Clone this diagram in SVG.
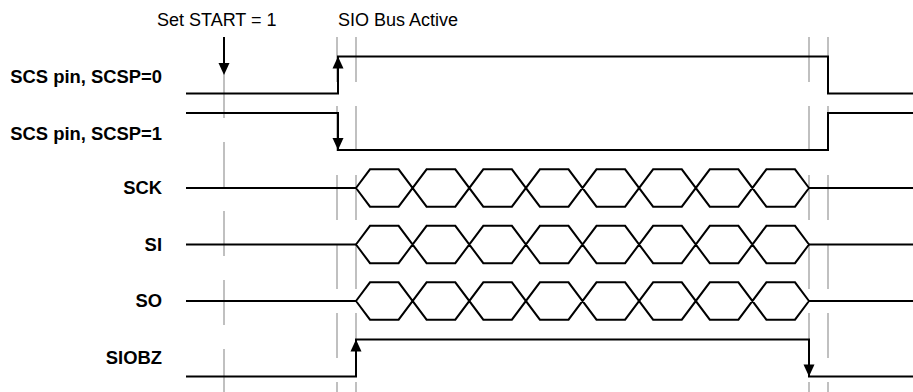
<svg xmlns="http://www.w3.org/2000/svg" xmlns:xlink="http://www.w3.org/1999/xlink" width="913" height="392" viewBox="0 0 913 392">
<style>
.lbl{font-family:"Liberation Sans",Arial,sans-serif;font-size:18.4px;font-weight:bold;fill:#000;text-anchor:end}
.note{font-family:"Liberation Sans",Arial,sans-serif;font-size:18px;fill:#000}
.sig{fill:none;stroke:#000;stroke-width:2;stroke-linejoin:miter}
.grid{stroke:#c0c0c0;stroke-width:2;fill:none}
.head{fill:#000;stroke:none}
</style>
<defs>
<path id="ahDown" d="M0,0 L-5.5,-12 L5.5,-12 Z"/>
<path id="bus" d="M356,0 L370,-18.7 H398.6 L426.6,18.7 H455.3 L483.3,-18.7 H511.9 L539.9,18.7 H568.5 L596.5,-18.7 H625.1 L653.1,18.7 H681.8 L709.8,-18.7 H738.4 L766.4,18.7 H795 L809,0 M356,0 L370,18.7 H398.6 L426.6,-18.7 H455.3 L483.3,18.7 H511.9 L539.9,-18.7 H568.5 L596.5,18.7 H625.1 L653.1,-18.7 H681.8 L709.8,18.7 H738.4 L766.4,-18.7 H795 L809,0"/>
</defs>
<rect width="913" height="392" fill="#fff"/>
<g id="gridlines">
<line class="grid" x1="224" y1="73" x2="224" y2="392" stroke-dasharray="45 24"/>
<line class="grid" x1="337" y1="37" x2="337" y2="392" stroke-dasharray="45 24"/>
<line class="grid" x1="356" y1="37" x2="356" y2="392" stroke-dasharray="45 24"/>
<line class="grid" x1="809" y1="37" x2="809" y2="392" stroke-dasharray="45 24"/>
<line class="grid" x1="828" y1="37" x2="828" y2="392" stroke-dasharray="45 24"/>
</g>
<g id="annotations">
<text class="note" x="157" y="25.5">Set START = 1</text>
<text class="note" x="338" y="25.5">SIO Bus Active</text>
<line class="sig" x1="224" y1="37" x2="224" y2="64"/>
<use xlink:href="#ahDown" class="head" transform="translate(224,75)"/>
</g>
<g id="scs0">
<text class="lbl" x="162" y="83.3">SCS pin, SCSP=0</text>
<path class="sig" d="M186,93.5 H338 V56.5 H828 V93.5 H913"/>
<use xlink:href="#ahDown" class="head" transform="translate(338,56.5) rotate(180)"/>
</g>
<g id="scs1">
<text class="lbl" x="162" y="140">SCS pin, SCSP=1</text>
<path class="sig" d="M186,113 H338 V150 H828 V113 H913"/>
<use xlink:href="#ahDown" class="head" transform="translate(338,150)"/>
</g>
<g id="sck">
<text class="lbl" x="162" y="194">SCK</text>
<path class="sig" d="M186,188 H356 M809,188 H913"/>
<use xlink:href="#bus" class="sig" transform="translate(0,188)"/>
</g>
<g id="si">
<text class="lbl" x="162" y="251">SI</text>
<path class="sig" d="M186,244.5 H356 M809,244.5 H913"/>
<use xlink:href="#bus" class="sig" transform="translate(0,244.5)"/>
</g>
<g id="so">
<text class="lbl" x="162" y="307.3">SO</text>
<path class="sig" d="M186,301 H356 M809,301 H913"/>
<use xlink:href="#bus" class="sig" transform="translate(0,301)"/>
</g>
<g id="siobz">
<text class="lbl" x="162" y="364.3">SIOBZ</text>
<path class="sig" d="M186,376.5 H356 V339.5 H809 V376.5 H913"/>
<use xlink:href="#ahDown" class="head" transform="translate(356,339.5) rotate(180)"/>
<use xlink:href="#ahDown" class="head" transform="translate(809,376.5)"/>
</g>
</svg>
